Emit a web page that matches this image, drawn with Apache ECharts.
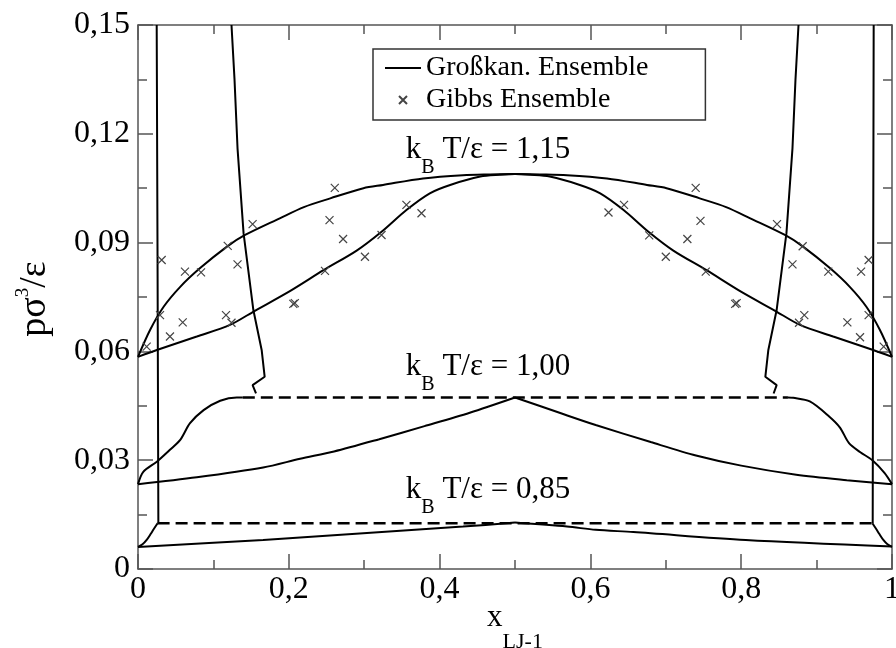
<!DOCTYPE html>
<html>
<head>
<meta charset="utf-8">
<title>Grosskanonisches Ensemble vs. Gibbs Ensemble</title>
<script src="https://cdn.jsdelivr.net/npm/echarts@6/dist/echarts.min.js"></script>
<style>html,body{margin:0;padding:0;background:#fff;}</style>
</head>
<body>
<div id="main" style="width:896px;height:648px;"></div>
<script type="text/javascript">
// kB T / eps = 1,15 : Tau- und Siedelinie
var dew115 = [[0,0.0585],[0.016,0.0659],[0.034,0.0723],[0.056,0.0778],[0.082,0.0829],[0.118,0.0889],[0.142,0.0921],[0.188,0.0967],[0.22,0.0998],[0.255,0.1022],[0.299,0.1050],[0.325,0.1059],[0.378,0.1077],[0.431,0.1086],[0.467,0.1088],[0.5,0.1089],
              [0.533,0.1088],[0.569,0.1086],[0.622,0.1077],[0.675,0.1059],[0.701,0.1050],[0.745,0.1022],[0.78,0.0998],[0.812,0.0967],[0.858,0.0921],[0.882,0.0889],[0.918,0.0829],[0.944,0.0778],[0.966,0.0723],[0.984,0.0659],[1,0.0585]];
var bub115 = [[0,0.0585],[0.025,0.0604],[0.078,0.0641],[0.122,0.0673],[0.155,0.0712],[0.202,0.0767],[0.246,0.0824],[0.29,0.0878],[0.323,0.0930],[0.356,0.0990],[0.387,0.1036],[0.414,0.1059],[0.454,0.1082],[0.48,0.1087],[0.5,0.1089],
              [0.52,0.1087],[0.546,0.1082],[0.586,0.1059],[0.613,0.1036],[0.644,0.0990],[0.677,0.0930],[0.71,0.0878],[0.754,0.0824],[0.798,0.0767],[0.845,0.0712],[0.878,0.0673],[0.922,0.0641],[0.975,0.0604],[1,0.0585]];

// kB T / eps = 1,00
var outer100L = [[0,0.0234],[0.007,0.0268],[0.025,0.0296],[0.042,0.0328],[0.056,0.0356],[0.069,0.0402],[0.087,0.0438],[0.109,0.0464],[0.131,0.0473],[0.139,0.0473]];
var outer100R = [[0.862,0.0473],[0.869,0.0472],[0.891,0.0462],[0.917,0.0420],[0.931,0.0390],[0.943,0.0347],[0.958,0.0322],[0.974,0.0300],[0.99,0.0265],[1,0.0234]];
var inner100L = [[0,0.0234],[0.078,0.0253],[0.166,0.0280],[0.215,0.0304],[0.26,0.0324],[0.32,0.0358],[0.38,0.0394],[0.44,0.0431],[0.5,0.0473]];
var inner100R = [[0.5,0.0473],[0.56,0.0430],[0.607,0.0397],[0.68,0.0350],[0.74,0.0313],[0.80,0.0285],[0.873,0.0260],[0.94,0.0245],[1,0.0234]];
var tie100 = [[0.139,0.0473],[0.862,0.0473]];
var vert100L = [[0.124,0.15],[0.128,0.135],[0.132,0.116],[0.14,0.0926],[0.153,0.0714],[0.164,0.0604],[0.168,0.0530],[0.152,0.0507],[0.1565,0.0484]];
var vert100R = [[0.876,0.15],[0.872,0.135],[0.868,0.116],[0.86,0.0926],[0.847,0.0714],[0.836,0.0604],[0.832,0.0530],[0.847,0.0507],[0.843,0.0484]];

// kB T / eps = 0,85
var outer085L = [[0,0.0061],[0.006,0.0068],[0.0115,0.0080],[0.017,0.0097],[0.0203,0.0108],[0.026,0.0126]];
var outer085R = [[0.974,0.0126],[0.9797,0.0108],[0.983,0.0097],[0.9885,0.0080],[0.994,0.0068],[1,0.0061]];
var inner085L = [[0,0.0061],[0.166,0.0080],[0.343,0.0105],[0.431,0.0117],[0.5,0.0128]];
var inner085R = [[0.5,0.0128],[0.569,0.0117],[0.607,0.0108],[0.657,0.0102],[0.806,0.0080],[1,0.0062]];
var tie085 = [[0.026,0.0126],[0.974,0.0126]];
var vert085L = [[0.027,0.0126],[0.026,0.08],[0.0248,0.15]];
var vert085R = [[0.9744,0.0126],[0.975,0.08],[0.9757,0.15]];

// Gibbs-Ensemble Simulationen
var gibbs = [[0.0115,0.0613],[0.0292,0.0700],[0.0314,0.0852],[0.0424,0.0641],[0.0593,0.0680],[0.0623,0.0820],[0.0836,0.0818],[0.1167,0.0700],[0.124,0.0679],[0.119,0.0891],[0.132,0.0840],[0.152,0.0951],[0.206,0.0731],[0.208,0.0733],[0.248,0.0822],[0.254,0.0962],[0.261,0.1051],[0.272,0.0910],[0.301,0.0861],[0.323,0.0921],[0.356,0.1004],[0.376,0.0981],
             [0.624,0.0983],[0.6446,0.1004],[0.678,0.0920],[0.700,0.0861],[0.7286,0.0910],[0.7396,0.1051],[0.746,0.0960],[0.753,0.0820],[0.792,0.0731],[0.794,0.0733],[0.8475,0.0951],[0.868,0.0840],[0.8815,0.0890],[0.8767,0.0679],[0.8837,0.0700],[0.9155,0.0820],[0.9408,0.0680],[0.959,0.0820],[0.9576,0.0639],[0.969,0.0852],[0.969,0.0700],[0.989,0.0613]];

var tempLabels = ['1,15', '1,00', '0,85'];
var legendNames = ['Großkan. Ensemble', 'Gibbs Ensemble'];

var serif = "'Liberation Serif', 'Times New Roman', serif";
var axisGrey = '#555';

var myChart = echarts.init(document.getElementById('main'));

function curve(data, kind) {
    var dashed = kind === 'dash';
    return {
        type: 'line',
        name: dashed ? 'Konode' : legendNames[0],
        data: data,
        symbol: 'none',
        showSymbol: false,
        smooth: kind === 'smooth' ? 0.3 : false,
        silent: true,
        itemStyle: { color: '#000' },
        lineStyle: {
            color: '#000',
            width: dashed ? 2.5 : 2,
            type: dashed ? [12, 6] : 'solid'
        },
        z: 3
    };
}

function kbLabel(value, top) {
    return {
        type: 'text',
        x: 488,
        y: top,
        silent: true,
        z: 10,
        style: {
            text: '{m|k}{s|B}{m| T/ε = ' + value + '}',
            align: 'center',
            verticalAlign: 'top',
            rich: {
                m: { fontSize: 31, fontFamily: serif, fill: '#000', lineHeight: 34, verticalAlign: 'top' },
                s: { fontSize: 20, fontFamily: serif, fill: '#000', padding: [24, 0, 0, 0], verticalAlign: 'top' }
            }
        }
    };
}

function xFmt(v) {
    if (v === 0) return '0';
    if (v === 1) return '1';
    return v.toFixed(1).replace('.', ',');
}
function yFmt(v) {
    if (v === 0) return '0';
    return v.toFixed(2).replace('.', ',');
}

function axisBase(isX, pos, showLabel) {
    return {
        type: 'value',
        position: pos,
        min: 0,
        max: isX ? 1 : 0.15,
        interval: isX ? 0.2 : 0.03,
        axisLine: { show: true, onZero: false, lineStyle: { color: axisGrey, width: 1.5 } },
        axisTick: { show: true, inside: true, length: 15, lineStyle: { color: axisGrey, width: 1.5 } },
        minorTick: { show: true, splitNumber: 2, length: 9, lineStyle: { color: axisGrey, width: 1.5 } },
        splitLine: { show: false },
        axisLabel: {
            show: showLabel,
            formatter: isX ? xFmt : yFmt,
            fontSize: 32,
            fontFamily: serif,
            color: '#000',
            margin: isX ? 5 : 8,
            showMinLabel: true,
            showMaxLabel: true
        }
    };
}

var option = {
    animation: false,
    backgroundColor: '#fff',
    grid: { left: 138, right: 4, top: 25, bottom: 79, containLabel: false, outerBoundsMode: 'none' },
    xAxis: [axisBase(true, 'bottom', true), axisBase(true, 'top', false)],
    yAxis: [axisBase(false, 'left', true), axisBase(false, 'right', false)],
    legend: {
        data: [
            { name: legendNames[0], icon: 'path://M0,0H36V2H0Z', itemStyle: { color: '#000' } },
            { name: legendNames[1] }
        ],
        orient: 'vertical',
        left: 373,
        top: 49,
        padding: [5, 57, 6, 12],
        itemGap: 4,
        itemWidth: 36,
        itemHeight: 8,
        selectedMode: false,
        borderColor: '#333',
        borderWidth: 1.5,
        backgroundColor: '#fff',
        textStyle: { fontFamily: serif, fontSize: 28, color: '#000' }
    },
    graphic: [
        kbLabel(tempLabels[0], 134),
        kbLabel(tempLabels[1], 351),
        kbLabel(tempLabels[2], 474),
        {
            type: 'text', x: 34, y: 299, rotation: Math.PI / 2, silent: true,
            style: {
                text: '{m|pσ}{p|3}{m|/ε}',
                align: 'center',
                verticalAlign: 'middle',
                rich: {
                    m: { fontSize: 38, fontFamily: serif, fill: '#000', lineHeight: 40, padding: [7, 0, 0, 0], verticalAlign: 'bottom' },
                    p: { fontSize: 19, fontFamily: serif, fill: '#000', lineHeight: 20, verticalAlign: 'top' }
                }
            }
        },
        {
            type: 'text', x: 515, y: 602, silent: true,
            style: {
                text: '{m|x}{s|LJ-1}',
                align: 'center',
                verticalAlign: 'top',
                rich: {
                    m: { fontSize: 31, fontFamily: serif, fill: '#000', lineHeight: 31, verticalAlign: 'top' },
                    s: { fontSize: 22, fontFamily: serif, fill: '#000', padding: [29, 0, 0, 0], verticalAlign: 'top' }
                }
            }
        }
    ],
    series: [
        curve(dew115, 'smooth'), curve(bub115, 'smooth'),
        curve(outer100L, 'smooth'), curve(outer100R, 'smooth'), curve(inner100L, 'smooth'), curve(inner100R, 'smooth'),
        curve(tie100, 'dash'), curve(vert100L), curve(vert100R),
        curve(outer085L, 'smooth'), curve(outer085R, 'smooth'), curve(inner085L, 'smooth'), curve(inner085R, 'smooth'),
        curve(tie085, 'dash'), curve(vert085L), curve(vert085R),
        {
            type: 'scatter',
            name: legendNames[1],
            data: gibbs,
            symbol: 'path://M0,0L10,10M10,0L0,10',
            symbolSize: 8,
            silent: true,
            itemStyle: { color: 'transparent', borderColor: '#444', borderWidth: 1.2, opacity: 1 },
            z: 4
        }
    ]
};

myChart.setOption(option);
</script>
</body>
</html>
